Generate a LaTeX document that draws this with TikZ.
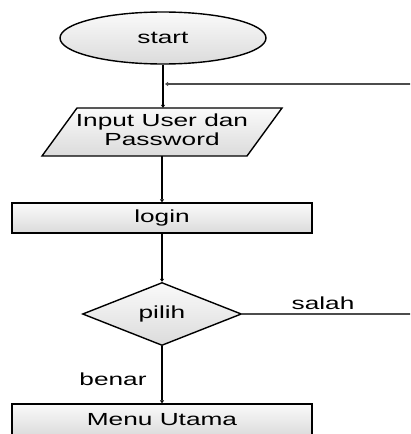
\documentclass[tikz,border=0pt]{standalone}
\usepackage{fontspec}
\setmainfont{Liberation Sans}
\usepackage{graphicx}
\usetikzlibrary{shapes.geometric,arrows.meta}
\newcommand{\wtxt}[1]{\scalebox{1.5}[1]{#1}}
\begin{document}
\begin{tikzpicture}[x=1pt,y=-1pt,
  every node/.style={font=\fontsize{17.5}{19}\selectfont, inner sep=0pt},
  shapefill/.style={draw=black, line width=1.4pt, top color=black!2, bottom color=black!14},
  boxnode/.style={shapefill, rectangle, minimum width=300pt, minimum height=30pt},
  flow/.style={draw=black, line width=1.8pt, -{Triangle[length=3pt,width=4pt]}},
  thinline/.style={draw=black!70, line width=1.1pt}
]
\useasboundingbox (0,0) rectangle (410,434);
\clip (0,0) rectangle (410,434);

% start ellipse
\node[shapefill, ellipse, minimum width=206pt, minimum height=52pt] (start) at (163,38) {\wtxt{start}};

% parallelogram
\path[shapefill] (77,108) -- (282,108) -- (247,156) -- (42,156) -- cycle;
\node[minimum width=205pt, minimum height=48pt] (input) at (162,132)
  {\wtxt{\begin{tabular}{@{}c@{}}Input User dan\\Password\end{tabular}}};

% login box
\node[boxnode] (login) at (162,218) {\wtxt{login}};

% decision
\node[shapefill, diamond, minimum width=159pt, minimum height=54pt] (pilih) at (162,314) {\wtxt{pilih}};

% menu box (cut off at the bottom)
\node[boxnode, minimum height=32pt] (menu) at (162,420) {\wtxt{Menu Utama}};

% connectors
\coordinate (fbstart) at (412,84);
\coordinate (fbend) at (165,84);
\coordinate (salahend) at (412,314);

\draw[flow] (start.south) -- (start.south |- input.north);
\draw[thinline, -{Triangle[length=3pt,width=4pt]}] (fbstart) -- (fbend);
\draw[flow] (input.south) -- (login.north);
\draw[flow] (login.south) -- (pilih.north);
\draw[flow] (pilih.south) -- (menu.north);
\draw[thinline] (pilih.east) -- (salahend);

% labels
\node (lsalah) at (323,303) {\wtxt{salah}};
\node (lbenar) at (113,379) {\wtxt{benar}};
\end{tikzpicture}
\end{document}
